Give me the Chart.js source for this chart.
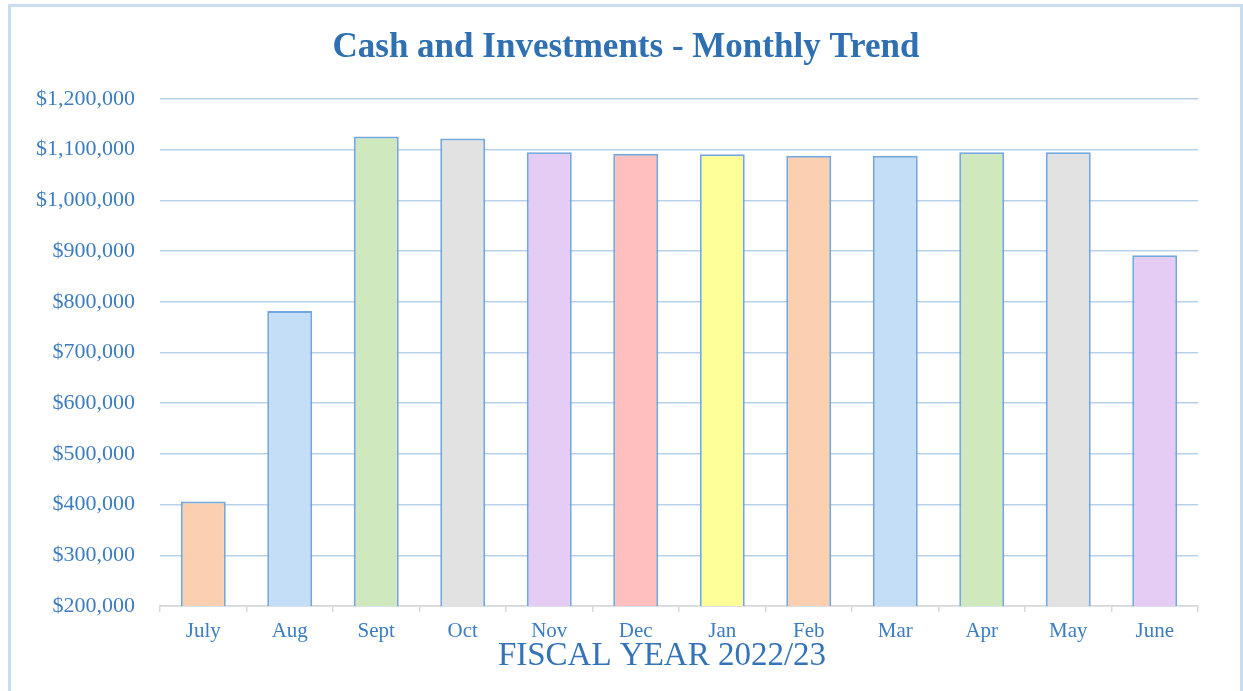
<!DOCTYPE html>
<html>
<head>
<meta charset="utf-8">
<script src="https://cdn.jsdelivr.net/npm/chart.js@4.4.1/dist/chart.umd.min.js"></script>
<style>
  html, body { margin: 0; padding: 0; background: #ffffff; }
  #frame { position: absolute; left: 8px; top: 4px; width: 1235px; height: 720px; box-sizing: border-box; border: 3px solid #C8DDF2; }
  #wrap { position: absolute; left: 0; top: 0; width: 1243px; height: 691px; }
</style>
</head>
<body>
<div id="frame"></div>
<div id="wrap"><canvas id="c" width="1243" height="691"></canvas></div>
<script>
const months = ["July","Aug","Sept","Oct","Nov","Dec","Jan","Feb","Mar","Apr","May","June"];
const cashValues = [406000, 782000, 1126000, 1122000, 1095000, 1092000, 1091000, 1088000, 1088000, 1095000, 1095000, 892000];
const barColors = ["#FBD0B0","#C5DEF7","#CFE8BD","#E2E2E2","#E5CCF5","#FFBFBF","#FFFF99","#FBD0B0","#C5DEF7","#CFE8BD","#E2E2E2","#E5CCF5"];
const yTicks = [200000,300000,400000,500000,600000,700000,800000,900000,1000000,1100000,1200000];
const chartTitle = "Cash and Investments - Monthly Trend";
const xTitle = "FISCAL YEAR 2022/23";

const textBlue = "#3C7CC0";
const serif = "'Liberation Serif', 'Times New Roman', serif";

const xTitlePlugin = {
  id: 'xTitle',
  afterDraw(chart) {
    const ctx = chart.ctx;
    ctx.save();
    ctx.font = "33px " + serif;
    ctx.fillStyle = "#3573B8";
    ctx.textAlign = "center";
    ctx.textBaseline = "alphabetic";
    ctx.fillText(xTitle, 662, 665);
    ctx.restore();
  }
};

new Chart(document.getElementById('c'), {
  type: 'bar',
  data: {
    labels: months,
    datasets: [{
      data: cashValues,
      backgroundColor: barColors,
      borderColor: "#74A7DD",
      borderWidth: 2,
      categoryPercentage: 1.0,
      barPercentage: 0.52
    }]
  },
  options: {
    responsive: false,
    animation: false,
    layout: { padding: { left: 9, right: 0, top: 0, bottom: 0 } },
    plugins: {
      legend: { display: false },
      tooltip: { enabled: false },
      title: {
        display: true,
        text: chartTitle,
        color: "#2F70B3",
        font: { family: serif, size: 35, weight: 'bold' },
        padding: { top: 27, bottom: 30 }
      }
    },
    scales: {
      x: {
        afterFit(scale) { scale.height = 85; },
        grid: { drawOnChartArea: false, drawTicks: true, tickLength: 6, color: "#D9D9D9", lineWidth: 1.5, offset: true },
        border: { display: true, color: "#D9D9D9", width: 1.5 },
        ticks: { color: textBlue, font: { family: serif, size: 21 }, padding: 7 }
      },
      y: {
        min: 200000,
        max: 1200000,
        afterFit(scale) { scale.width = 151; },
        afterBuildTicks(scale) { scale.ticks = yTicks.map(v => ({ value: v })); },
        grid: { color: "#B7D1EC", lineWidth: 1.5, drawTicks: false },
        border: { display: false },
        ticks: {
          color: textBlue,
          font: { family: serif, size: 22 },
          padding: 25,
          callback: v => "$" + v.toLocaleString('en-US')
        }
      },
      yRight: {
        position: 'right',
        display: true,
        afterFit(scale) { scale.width = 45; },
        grid: { display: false },
        border: { display: false },
        ticks: { display: false }
      }
    }
  },
  plugins: [xTitlePlugin]
});
</script>
</body>
</html>
